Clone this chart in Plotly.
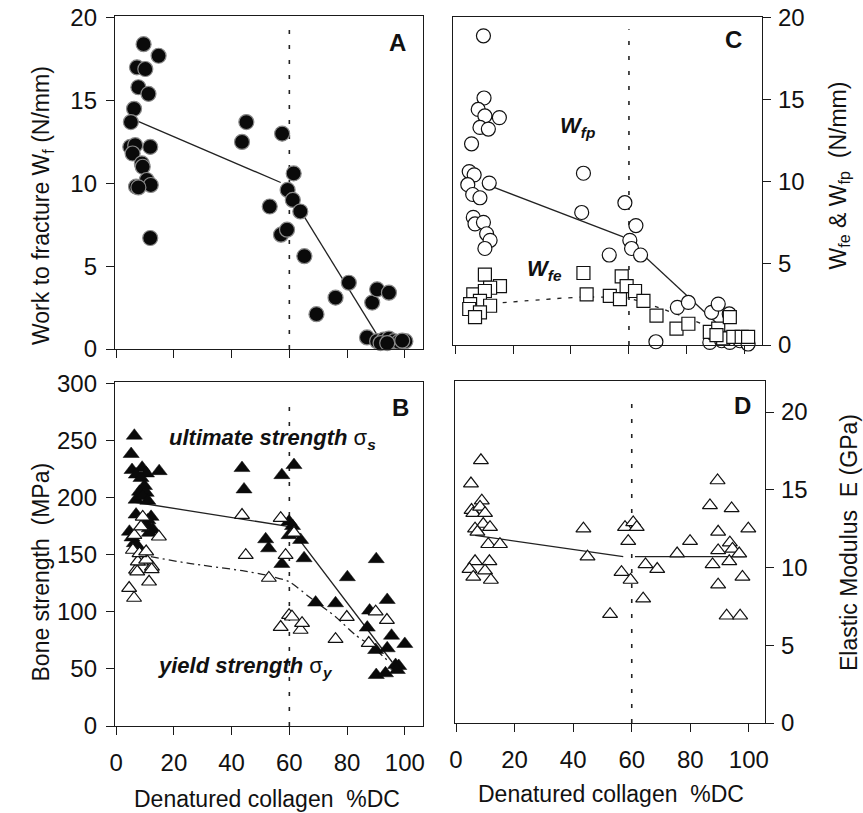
import plotly.graph_objects as go

# ---------------- data ----------------
# Panel A: work to fracture Wf (N/mm) vs denatured collagen (%DC)
wf_dc = [9.5, 14.7, 7.2, 10.1, 7.7, 11.2, 6.2, 5.1, 4.9, 6.6,
         5.7, 11.8, 8.9, 9.2, 6.9, 10.6, 12.0, 11.8, 43.6, 45.1,
         57.5, 53.2, 57.1, 59.2, 59.4, 61.5, 61.2, 63.8, 65.2, 69.4,
         76.0, 80.6, 86.9, 88.7, 90.4, 94.5, 90.4, 92.7, 94.5, 96.2,
         97.9, 100.2, 91.6, 93.9, 99.1, 7.7]
wf = [18.4, 17.7, 17.0, 16.9, 15.8, 15.4, 14.5, 13.7, 12.2, 12.3,
      11.8, 12.2, 11.2, 11.0, 9.8, 10.2, 9.9, 6.7, 12.5, 13.7,
      13.0, 8.6, 6.9, 7.2, 9.6, 10.6, 9.0, 8.3, 5.6, 2.1,
      3.1, 4.0, 0.7, 2.8, 3.6, 3.4, 0.47, 0.57, 0.63, 0.47,
      0.43, 0.47, 0.36, 0.36, 0.5, 9.75]
wf_fit_dc = [5.4, 57.0, None, 64.4, 91.3]
wf_fit = [13.9, 10.05, None, 8.2, 0.6]

# Panel B: ultimate and yield strength (MPa)
us_dc = [6.3, 5.2, 5.5, 9.0, 14.9, 7.0, 10.5, 8.6, 9.8, 8.1,
         10.4, 6.9, 9.2, 11.0, 6.9, 12.1, 11.0, 4.6, 11.5, 12.7,
         6.3, 11.5, 7.5, 5.5, 10.0, 43.6, 44.3, 57.4, 61.6, 51.8,
         52.8, 57.4, 59.9, 61.1, 59.9, 63.9, 65.1, 69.1, 76.0, 80.1,
         87.0, 87.8, 90.1, 89.9, 90.1, 93.3, 93.9, 93.9, 95.4, 96.8,
         97.9, 100.0, 97.4]
us = [254, 238, 224, 226, 223, 220, 221, 217, 210, 205,
      204, 198, 201, 197, 185, 183, 180, 170, 173, 172,
      160, 169, 157, 165, 175, 225.7, 207, 219.5, 228.3, 163.4,
      155.5, 141.8, 178.9, 175, 167, 162.8, 146.8, 108, 107.4, 130.2,
      86.1, 101, 146, 66.5, 44.6, 46.1, 110.3, 68, 79, 53.4,
      52.5, 71.8, 49]
ys_dc = [4.5, 6.2, 6.9, 7.3, 8.6, 11.4, 12.4, 12.3, 7.5, 10.4,
         5.8, 8.1, 10.4, 6.3, 8.6, 9.2, 14.8, 43.6, 44.9, 52.9,
         57.0, 58.7, 61.6, 57.0, 59.9, 60.9, 63.9, 64.4, 76.0, 79.9,
         87.5, 89.9, 93.8]
ys = [120.7, 112, 136.6, 135, 143.7, 126.2, 139.3, 137, 143.9, 145.3,
      154, 151, 152.6, 167, 174.5, 183, 165.6, 184.6, 149.5, 129.5,
      181.9, 149.5, 169, 86.6, 97, 95.6, 84, 90, 76, 95.3,
      72.6, 100, 92.7]
us_fit_dc = [6.0, 60.0, 95.6]
us_fit = [196, 174.5, 56]
ys_fit_dc = [6, 9.1, 25.3, 43.7, 51.8, 59.9, 66.8, 76, 82.9, 88.7, 94.5]
ys_fit = [152, 149.6, 142.3, 135.9, 132.1, 126.3, 113.1, 95.6, 79.6, 69.4, 56.2]

# Panel C: Wfp (open circles) and Wfe (open squares), N/mm
wfp_dc = [9.8, 10.0, 8.0, 10.3, 15.3, 8.6, 11.5, 5.7, 4.9, 6.6,
          4.4, 11.8, 6.1, 8.6, 6.3, 6.9, 9.8, 10.9, 12.1, 10.3,
          44.3, 43.7, 53.2, 58.6, 62.4, 60.3, 60.9, 64.0, 69.3, 76.7,
          80.5, 88.5, 90.8, 94.6, 87.9, 92.0, 94.8, 98.3, 101.1, 89.0]
wfp = [18.9, 15.1, 14.4, 14.0, 13.9, 13.3, 13.2, 12.3, 10.6, 10.4,
       9.8, 9.9, 9.2, 9.0, 7.8, 7.4, 7.5, 6.8, 6.4, 5.9,
       10.5, 8.1, 5.5, 8.7, 7.3, 6.4, 5.9, 5.5, 0.2, 2.3,
       2.6, 2.0, 2.5, 1.9, 0.16, 0.26, 0.16, 0.26, 0.06, 0.7]
wfe_dc = [10.3, 44.3, 57.5, 15.5, 12.1, 6.3, 10.3, 45.4, 53.4, 56.9,
          59.2, 62.1, 65.0, 8.6, 5.2, 12.1, 4.9, 8.6, 6.9, 69.5,
          76.4, 80.5, 87.9, 90.8, 94.8, 92.5, 96.0, 98.9, 101.1, 90.2]
wfe = [4.3, 4.4, 4.2, 3.6, 3.5, 3.1, 3.3, 3.1, 3.0, 2.8,
       3.6, 3.3, 2.7, 2.7, 2.5, 2.4, 2.2, 2.0, 1.7, 1.8,
       1.0, 1.3, 0.8, 1.0, 1.7, 0.4, 0.5, 0.5, 0.5, 0.6]
wfp_fit_dc = [12.1, 58.0, None, 61.5, 96.5]
wfp_fit = [9.73, 6.61, None, 6.06, 0.3]
wfe_fit_dc = [5, 44, 60, 70, 85, 96]
wfe_fit = [2.42, 2.93, 2.85, 2.3, 1.3, 0.35]

# Panel D: elastic modulus E (GPa)
e_dc = [8.5, 5.1, 5.3, 5.9, 8.8, 8.2, 9.9, 9.3, 6.5, 7.3,
        11.6, 11.0, 15.0, 6.5, 11.4, 4.6, 9.9, 5.9, 11.9, 43.5,
        44.9, 52.6, 56.5, 57.7, 60.5, 61.7, 58.8, 59.6, 63.9, 64.7,
        68.7, 75.5, 79.9, 86.7, 89.3, 89.5, 89.5, 87.6, 89.5, 94.1,
        93.5, 94.4, 93.3, 96.7, 97.8, 99.8, 92.4, 97.0]
e_mod = [16.9, 15.4, 13.7, 13.5, 14.3, 13.9, 13.5, 12.8, 12.5, 12.3,
         12.6, 11.5, 11.5, 10.4, 10.4, 9.9, 9.8, 9.4, 9.2, 12.5,
         10.7, 7.0, 9.7, 12.6, 12.9, 12.6, 11.7, 9.2, 8.0, 10.2,
         9.9, 10.9, 11.7, 14.0, 15.6, 12.3, 11.1, 10.2, 8.9, 13.8,
         11.6, 11.2, 10.4, 10.9, 9.4, 12.5, 6.9, 6.9]
e_fit_dc = [6.5, 57.1, None, 61.1, 98.6]
e_fit = [12.07, 10.7, None, 10.7, 10.7]

# breakpoint in %DC and the top of its dotted guide in each panel
breakpoint_dc = 60
guide_top = {"A": 19.3, "B": 288, "C": 19.3, "D": 20.9}

x_ticks = [0, 20, 40, 60, 80, 100]

# ---------------- styling ----------------
FONT = "Liberation Sans, Arial, Helvetica, sans-serif"
INK = "#111111"
W, H = 863, 813


def px_x(p):
    return p / W


def px_y(p):
    return 1 - p / H


fig = go.Figure()

# dotted guide lines at the breakpoint
for ax, key in (("", "A"), ("2", "B"), ("3", "C"), ("4", "D")):
    fig.add_trace(go.Scatter(
        x=[breakpoint_dc, breakpoint_dc], y=[0, guide_top[key]],
        mode="lines", line=dict(color="#222", width=1.6, dash="4px,11px"),
        xaxis="x" + ax, yaxis="y" + ax, hoverinfo="skip", showlegend=False))

# ---- A ----
fig.add_trace(go.Scatter(x=wf_fit_dc, y=wf_fit, mode="lines",
                         line=dict(color="#222", width=1.3),
                         xaxis="x", yaxis="y", showlegend=False))
fig.add_trace(go.Scatter(x=wf_dc, y=wf, mode="markers",
                         marker=dict(symbol="circle", size=15, color="#0a0a0a",
                                     line=dict(color="#8a8a8a", width=1.2)),
                         cliponaxis=False, xaxis="x", yaxis="y", showlegend=False))

# ---- B ----
fig.add_trace(go.Scatter(x=us_fit_dc, y=us_fit, mode="lines",
                         line=dict(color="#222", width=1.3),
                         xaxis="x2", yaxis="y2", showlegend=False))
fig.add_trace(go.Scatter(x=ys_fit_dc, y=ys_fit, mode="lines",
                         line=dict(color="#222", width=1.3, dash="8px,4px,2px,4px",
                                   shape="spline", smoothing=0.6),
                         xaxis="x2", yaxis="y2", showlegend=False))
fig.add_trace(go.Scatter(x=us_dc, y=us, mode="markers",
                         marker=dict(symbol="triangle-up", size=14, color="#0a0a0a",
                                     line=dict(color="#0a0a0a", width=0.5)),
                         cliponaxis=False, xaxis="x2", yaxis="y2", showlegend=False))
fig.add_trace(go.Scatter(x=ys_dc, y=ys, mode="markers",
                         marker=dict(symbol="triangle-up", size=13, color="white",
                                     line=dict(color=INK, width=1.2)),
                         cliponaxis=False, xaxis="x2", yaxis="y2", showlegend=False))

# ---- C ----
fig.add_trace(go.Scatter(x=wfp_fit_dc, y=wfp_fit, mode="lines",
                         line=dict(color="#222", width=1.3),
                         xaxis="x3", yaxis="y3", showlegend=False))
fig.add_trace(go.Scatter(x=wfe_fit_dc, y=wfe_fit, mode="lines",
                         line=dict(color="#222", width=1.3, dash="4px,7px",
                                   shape="spline", smoothing=0.6),
                         xaxis="x3", yaxis="y3", showlegend=False))
fig.add_trace(go.Scatter(x=wfp_dc, y=wfp, mode="markers",
                         marker=dict(symbol="circle", size=14, color="white",
                                     line=dict(color=INK, width=1.2)),
                         cliponaxis=False, xaxis="x3", yaxis="y3", showlegend=False))
fig.add_trace(go.Scatter(x=wfe_dc, y=wfe, mode="markers",
                         marker=dict(symbol="square", size=13, color="white",
                                     line=dict(color=INK, width=1.2)),
                         cliponaxis=False, xaxis="x3", yaxis="y3", showlegend=False))

# ---- D ----
fig.add_trace(go.Scatter(x=e_fit_dc, y=e_fit, mode="lines",
                         line=dict(color="#222", width=1.3),
                         xaxis="x4", yaxis="y4", showlegend=False))
fig.add_trace(go.Scatter(x=e_dc, y=e_mod, mode="markers",
                         marker=dict(symbol="triangle-up", size=13, color="white",
                                     line=dict(color=INK, width=1.2)),
                         cliponaxis=False, xaxis="x4", yaxis="y4", showlegend=False))

# ---------------- axes ----------------
axis_common = dict(showline=True, mirror=True, linecolor="#1a1a1a", linewidth=1.4,
                   ticks="outside", ticklen=8, tickwidth=1.2, tickcolor="#1a1a1a",
                   showgrid=False, zeroline=False, fixedrange=True, automargin=False,
                   tickfont=dict(family=FONT, size=24, color=INK))

fig.update_layout(
    template="none",
    width=W, height=H, margin=dict(l=0, r=0, t=0, b=0, pad=0), autosize=False,
    paper_bgcolor="white", plot_bgcolor="white", showlegend=False,
    font=dict(family=FONT, color=INK),
    # A
    xaxis=dict(axis_common, domain=[px_x(115), px_x(423)], range=[-0.4, 106.3],
               tickvals=x_ticks, showticklabels=False, anchor="y"),
    yaxis=dict(axis_common, domain=[px_y(349), px_y(16)], range=[0, 20.1],
               tickvals=[0, 5, 10, 15, 20], ticklabelstandoff=4, anchor="x"),
    # B
    xaxis2=dict(axis_common, domain=[px_x(115), px_x(423)], range=[-0.4, 106.3],
                tickvals=x_ticks, ticklabelstandoff=7, anchor="y2"),
    yaxis2=dict(axis_common, domain=[px_y(726), px_y(382)], range=[0, 301],
                tickvals=[0, 50, 100, 150, 200, 250, 300], ticklabelstandoff=4,
                anchor="x2"),
    # C
    xaxis3=dict(axis_common, domain=[px_x(453), px_x(762)], range=[-0.7, 105.9],
                tickvals=x_ticks, showticklabels=False, anchor="y3"),
    yaxis3=dict(axis_common, domain=[px_y(345), px_y(17)], range=[0, 20.05],
                tickvals=[0, 5, 10, 15, 20], side="right", ticklabelstandoff=2,
                anchor="x3"),
    # D
    xaxis4=dict(axis_common, domain=[px_x(455), px_x(765)], range=[-0.35, 105.5],
                tickvals=x_ticks, ticklabelstandoff=7, anchor="y4"),
    yaxis4=dict(axis_common, domain=[px_y(723), px_y(381)], range=[0, 22],
                tickvals=[0, 5, 10, 15, 20], side="right", ticklabelstandoff=2,
                anchor="x4"),
)

# ---------------- text ----------------
ann = []


def title(text, xpx, ypx, angle=0):
    ann.append(dict(text=text, x=px_x(xpx), y=px_y(ypx), xref="paper", yref="paper",
                    xanchor="center", yanchor="middle", textangle=angle, showarrow=False,
                    font=dict(family=FONT, size=23, color=INK)))


title("Work to fracture W<sub>f</sub> (N/mm)", 42, 206, -90)
title("Bone strength \u00a0(MPa)", 40.5, 572, -90)
title("W<sub>fe</sub> &amp; W<sub>fp</sub> \u00a0(N/mm)", 839.5, 176, -90)
title("Elastic Modulus \u00a0E (GPa)", 849, 543, -90)
title("Denatured collagen \u00a0%DC", 267, 799)
title("Denatured collagen \u00a0%DC", 611, 794)


def label(text, x, y, ax, size=22, xanchor="center"):
    ann.append(dict(text=text, x=x, y=y, xref="x" + ax, yref="y" + ax,
                    xanchor=xanchor, yanchor="middle", showarrow=False,
                    font=dict(family=FONT, size=size, color=INK)))


label("<b>A</b>", 97.6, 18.47, "", size=24)
label("<b>B</b>", 98.6, 279, "2", size=24)
label("<b>C</b>", 95.9, 18.7, "3", size=24)
label("<b>D</b>", 97.95, 20.45, "4", size=24)

label("<b><i>ultimate strength</i></b> \u03c3<sub><b><i>s</i></b></sub>", 17.6, 251, "2",
      xanchor="left")
label("<b><i>yield strength</i></b> \u03c3<sub><b><i>y</i></b></sub>", 13.8, 52, "2",
      xanchor="left")
label("<b><i>W<sub>fp</sub></i></b>", 35.5, 13.33, "3", xanchor="left")
label("<b><i>W<sub>fe</sub></i></b>", 24.1, 4.58, "3", xanchor="left")

fig.update_layout(annotations=ann)

fig.write_html("out.html")
